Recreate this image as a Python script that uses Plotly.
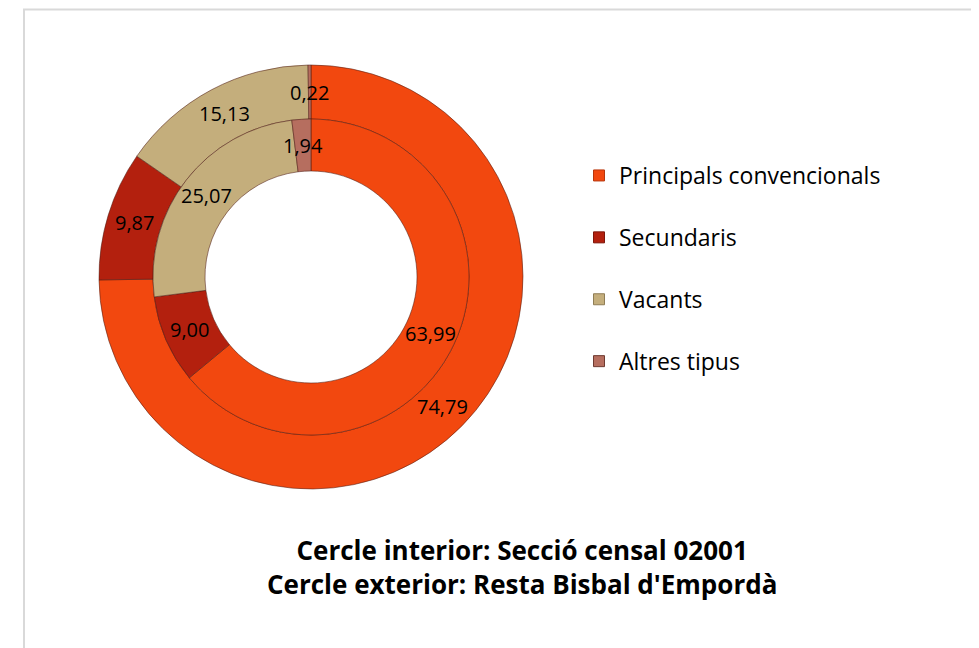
import math
import plotly.graph_objects as go

# ---- data ----
categories = ["Principals convencionals", "Secundaris", "Vacants", "Altres tipus"]
inner_values = [63.99, 9.00, 25.07, 1.94]   # Secció censal 02001
outer_values = [74.79, 9.87, 15.13, 0.22]   # Resta Bisbal d'Empordà
title_lines = ["Cercle interior: Secció censal 02001",
               "Cercle exterior: Resta Bisbal d'Empordà"]

colors = ["#F2480F", "#B3200E", "#C4AE7C", "#B66E5F"]
line_colors = ["#B8360C", "#7E160A", "#8F7D55", "#6E3A30"]

OFF = 8                    # page body margin
W, H = 979 - OFF, 648 - OFF
CX, CY = 311 - OFF, 277 - OFF   # pie centre (px within figure)
R_OUT, R_MID, R_IN = 212, 158, 106
FONT = "Open Sans"


def px2paper(x, y):
    return x / W, 1 - y / H


def domain(r):
    return dict(x=[(CX - r) / W, (CX + r) / W],
                y=[(H - CY - r) / H, (H - CY + r) / H])


fig = go.Figure()

fig.add_trace(go.Pie(
    labels=categories, values=outer_values, sort=False, direction="clockwise",
    rotation=0, hole=R_MID / R_OUT, domain=domain(R_OUT),
    marker=dict(colors=colors, line=dict(color="rgba(80,30,20,0.55)", width=1)),
    textinfo="none", showlegend=False, hoverinfo="label+value",
))
fig.add_trace(go.Pie(
    labels=categories, values=inner_values, sort=False, direction="clockwise",
    rotation=0, hole=R_IN / R_MID, domain=domain(R_MID),
    marker=dict(colors=colors, line=dict(color="rgba(80,30,20,0.55)", width=1)),
    textinfo="none", showlegend=False, hoverinfo="label+value",
))


def fmt(v):
    return f"{v:.2f}".replace(".", ",")


annotations = []
for vals, r0, r1 in [(outer_values, R_MID, R_OUT), (inner_values, R_IN, R_MID)]:
    total = sum(vals)
    cum = 0.0
    rm = (r0 + r1) / 2
    for v in vals:
        mid = (cum + v / 2) / total * 2 * math.pi
        cum += v
        ax, ay = px2paper(CX + rm * math.sin(mid), CY - rm * math.cos(mid))
        annotations.append(dict(
            x=ax, y=ay, xref="paper", yref="paper",
            text=fmt(v), showarrow=False,
            font=dict(family=FONT, size=20, color="#000000"),
            xanchor="center", yanchor="middle"))

tx, ty = px2paper(522 - OFF, 567 - OFF)
annotations.append(dict(
    x=tx, y=ty, xref="paper", yref="paper",
    text="<br>".join(f"<b>{t}</b>" for t in title_lines), showarrow=False,
    font=dict(family=FONT, size=26, color="#000000"),
    xanchor="center", yanchor="middle", align="center"))

# legend entries
for i, (cat, col) in enumerate(zip(categories, colors)):
    fig.add_trace(go.Scatter(
        x=[None], y=[None], mode="markers", name=cat, legendgroup=f"g{i}",
        marker=dict(symbol="square", size=11, color=col,
                    line=dict(color=line_colors[i], width=1)),
    ))

lx, ly = px2paper(579 - OFF, 154 - OFF)
bx0, by1 = px2paper(24 - OFF, 9.5 - OFF)
fig.update_layout(
    width=W, height=H,
    margin=dict(l=0, r=0, t=0, b=0),
    paper_bgcolor="white", plot_bgcolor="white",
    xaxis=dict(visible=False), yaxis=dict(visible=False),
    annotations=annotations,
    legend=dict(x=lx, y=ly, xanchor="left", yanchor="top",
                font=dict(family=FONT, size=23, color="#000000"),
                tracegroupgap=29, bgcolor="rgba(0,0,0,0)",
                itemclick=False, itemdoubleclick=False),
    shapes=[dict(type="rect", xref="paper", yref="paper",
                 x0=bx0, x1=1.05, y0=-0.05, y1=by1,
                 line=dict(color="#D9D9D9", width=2), fillcolor="rgba(0,0,0,0)",
                 layer="below")],
)

fig.write_html("out.html")
